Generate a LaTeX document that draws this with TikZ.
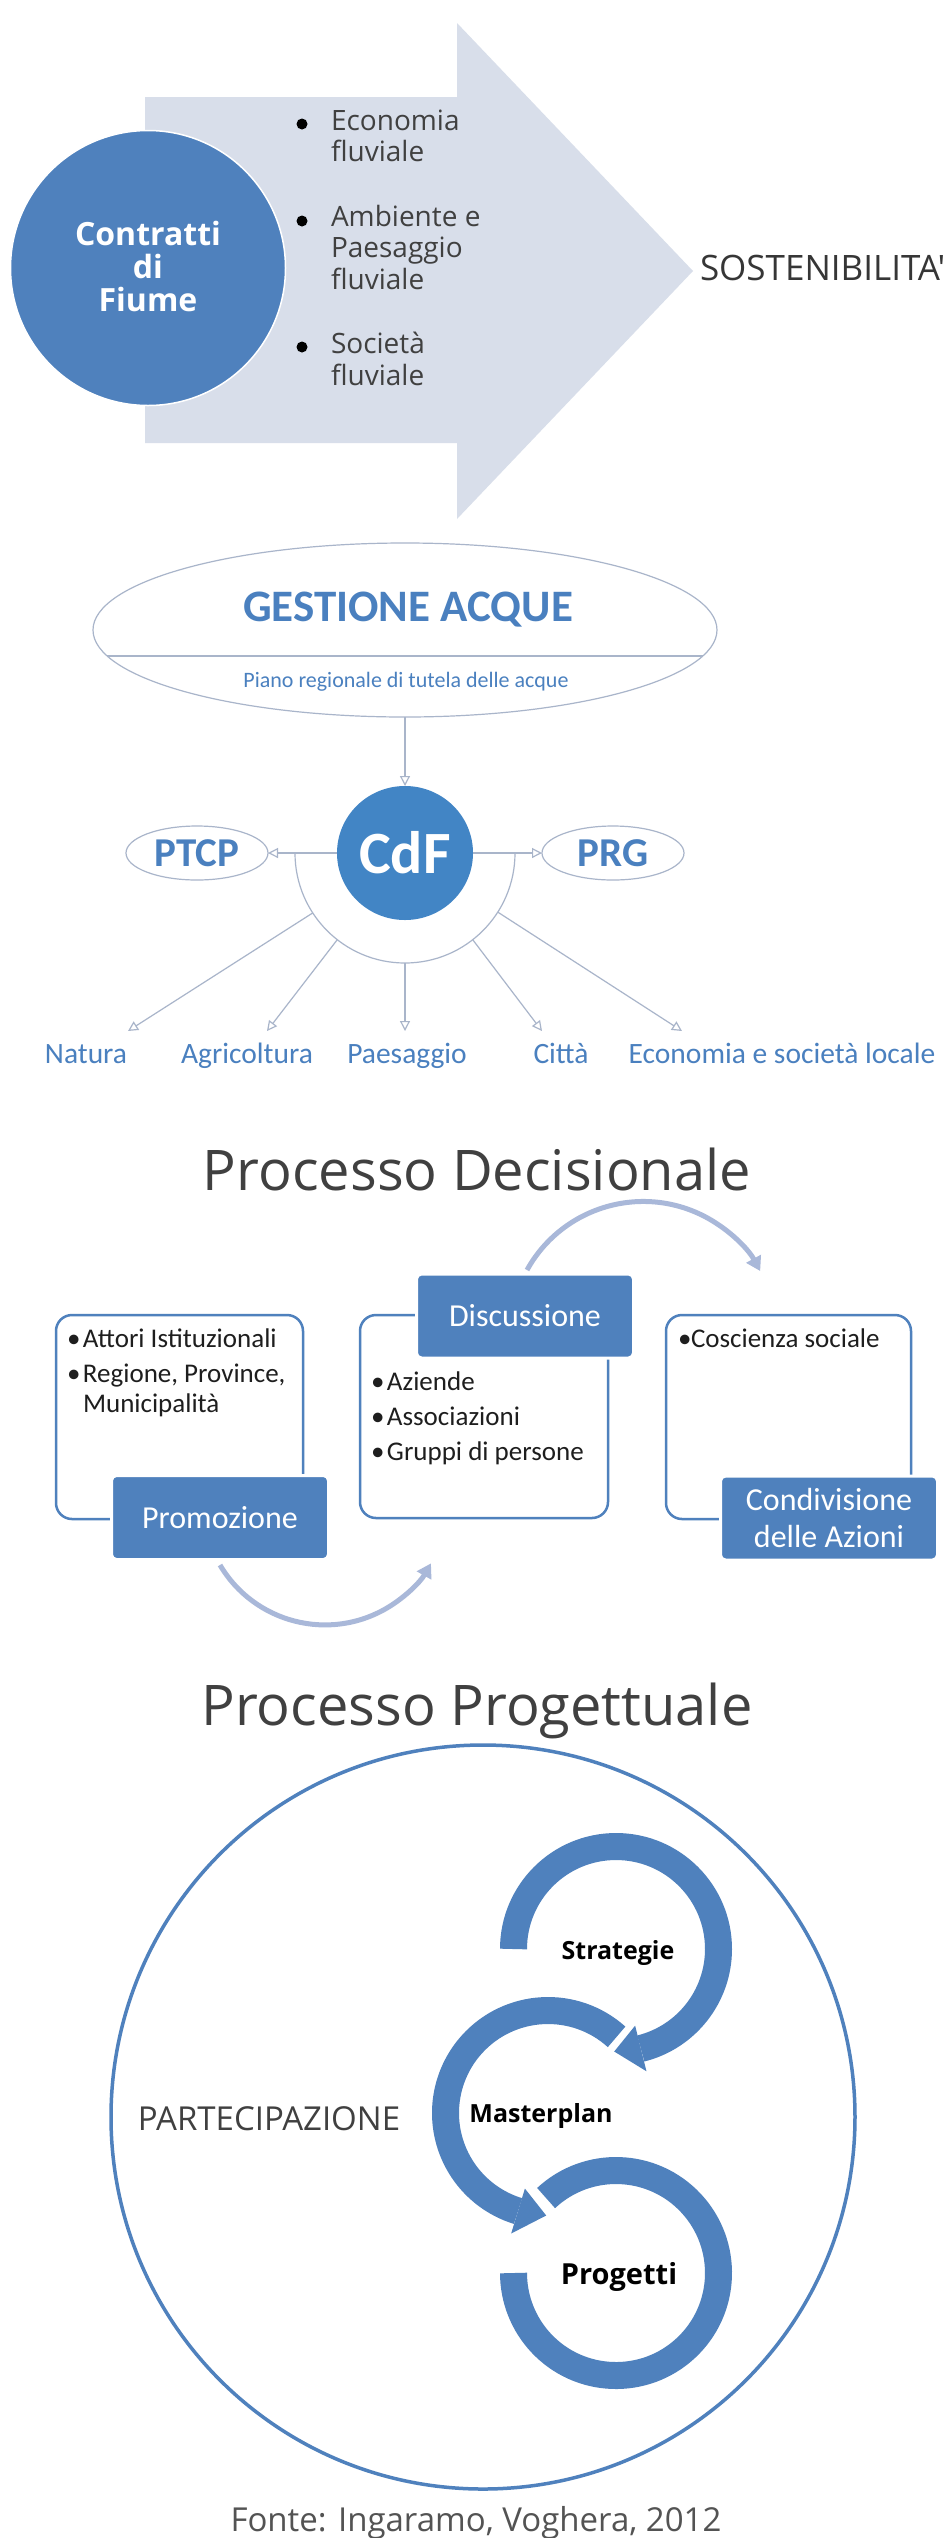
\documentclass[tikz,border=0pt]{standalone}
\usepackage{fontspec}
\setmainfont{Carlito}
\newfontfamily\os{Open Sans}
\usetikzlibrary{arrows.meta,shapes.geometric,calc}
\definecolor{ablue}{HTML}{4F81BD}
\definecolor{cblue}{HTML}{4285C5}
\definecolor{lfill}{HTML}{D8DEEA}
\definecolor{lline}{HTML}{A9B5CA}
\definecolor{arcc}{HTML}{A9B8D9}
\definecolor{tgray}{HTML}{404040}
\definecolor{tblue}{HTML}{4A80BF}
\definecolor{tdark}{HTML}{1E1E1E}
\tikzset{
  conn/.style={lline, line width=1.2pt, -{Triangle[open, length=10pt, width=10pt]}},
  bigbox/.style={draw=ablue, line width=2.5pt, rounded corners=16pt, fill=white, inner sep=0, outer sep=0},
  labbox/.style={fill=ablue, draw=white, line width=3pt, rounded corners=5pt, text=white,
    font=\fontsize{32}{37}\selectfont, align=center, inner sep=0, minimum width=217pt, minimum height=84pt},
  flow/.style={arcc, line width=5pt, -{Triangle[length=14pt, width=16pt]}},
  ring/.style={ablue, line width=27pt},
  dot/.style={circle, fill=black, inner sep=0, minimum size=11pt},
  plain/.style={inner sep=0, outer sep=0},
  boxtext/.style={plain, anchor=base west, text=tdark, font=\fontsize{27}{30}\selectfont},
  lbl/.style={plain, anchor=base, text=tblue, font=\fontsize{29.5}{30}\selectfont},
  title/.style={plain, anchor=base, text=tgray, font=\os\fontsize{56}{56}\selectfont},
  cyc/.style={plain, anchor=base, text=black, font=\os\bfseries\fontsize{25}{25}\selectfont},
}
\begin{document}
\begin{tikzpicture}[x=1pt,y=-1pt]
\fill[white] (0,0) rectangle (944,2538);
\useasboundingbox (0,0) rectangle (944,2538);

% ---------------- Section 1 ----------------
\fill[lfill] (145,97) -- (457,97) -- (457,23) -- (693,271) -- (457,519) -- (457,443) -- (145,443) -- cycle;
\node[circle, fill=ablue, draw=white, line width=1.5pt, minimum size=275pt, inner sep=0] (cdf1) at (148,268) {};
\node[plain, anchor=base, text=white, font=\os\bfseries\fontsize{32}{30}\selectfont] (cdf1t) at (148,245)
  {\begin{tabular}[t]{@{}c@{}}Contratti\\di\\Fiume\end{tabular}};
\node[dot] (d1) at (302,124) {};
\node[dot] (d2) at (302,221) {};
\node[dot] (d3) at (302,347) {};
\node[plain, anchor=base west, text=tgray, font=\os\fontsize{28}{31.5}\selectfont] (blist) at (331,130)
  {\begin{tabular}[t]{@{}l@{}}Economia\\fluviale\\[33pt]Ambiente e\\Paesaggio\\fluviale\\[33pt]Società\\fluviale\end{tabular}};
\node[plain, anchor=base west, text=tgray!85!black, font=\os\fontsize{35}{35}\selectfont] (sost) at (700,280) {SOSTENIBILITA'};

% ---------------- Section 2 ----------------
\node[ellipse, draw=lline, line width=1.2pt, minimum width=624pt, minimum height=174pt, inner sep=0, outer sep=0] (ga) at (405,630) {};
\draw[lline, line width=1.2pt] (ga.185.4) -- (ga.-5.4);
\node[plain, anchor=base, text=tblue, font=\bfseries\fontsize{45}{45}\selectfont] (gat) at (408,621) {GESTIONE ACQUE};
\node[plain, anchor=base, text=tblue, font=\fontsize{22}{22}\selectfont] (piano) at (406,687) {Piano regionale di tutela delle acque};

\node[ellipse, fill=cblue, minimum width=136pt, minimum height=134pt, inner sep=0, outer sep=0,
  text=white, font=\bfseries\fontsize{60}{60}\selectfont] (cdf) at (405,853) {CdF};
\node[ellipse, draw=lline, line width=1.2pt, minimum width=142pt, minimum height=54pt, inner sep=0, outer sep=0,
  text=tblue, font=\bfseries\fontsize{41}{41}\selectfont] (ptcp) at (197,853) {PTCP};
\node[ellipse, draw=lline, line width=1.2pt, minimum width=142pt, minimum height=54pt, inner sep=0, outer sep=0,
  text=tblue, font=\bfseries\fontsize{41}{41}\selectfont] (prg) at (613,853) {PRG};

\draw[conn] (ga.south) -- (cdf.north);
\draw[conn] (cdf.west) -- (ptcp.east);
\draw[conn] (cdf.east) -- (prg.west);
\draw[lline, line width=1.2pt] (cdf.center) ++(180:110) arc[start angle=180, end angle=0, radius=110];

\path (cdf.center) ++(147:110) coordinate (snat);
\path (cdf.center) ++(128:110) coordinate (sagr);
\path (cdf.center) ++(90:110) coordinate (spae);
\path (cdf.center) ++(52:110) coordinate (scit);
\path (cdf.center) ++(32.5:110) coordinate (seco);
\coordinate (tnat) at (128,1031);
\coordinate (tagr) at (267,1031);
\coordinate (tpae) at (405,1031);
\coordinate (tcit) at (542,1031);
\coordinate (teco) at (682,1031);
\draw[conn] (snat) -- (tnat);
\draw[conn] (sagr) -- (tagr);
\draw[conn] (spae) -- (tpae);
\draw[conn] (scit) -- (tcit);
\draw[conn] (seco) -- (teco);
\node[lbl] (lnat) at (86,1063) {Natura};
\node[lbl] (lagr) at (247,1063) {Agricoltura};
\node[lbl] (lpae) at (407,1063) {Paesaggio};
\node[lbl] (lcit) at (561,1063) {Città};
\node[lbl] (leco) at (782,1063) {Economia e società locale};

% ---------------- Section 3 ----------------
\node[title] (t1) at (477,1190) {Processo Decisionale};
\node[bigbox, minimum width=247pt, minimum height=204pt] (b1) at (179.5,1417) {};
\node[bigbox, minimum width=248pt, minimum height=203pt] (b2) at (484,1416.5) {};
\node[bigbox, minimum width=245pt, minimum height=204pt] (b3) at (788.5,1417) {};
\node[labbox] (l1) at (220,1517.5) {Promozione};
\node[labbox] (l2) at (525,1316) {Discussione};
\node[labbox] (l3) at (829,1518) {Condivisione\\delle Azioni};

\node[boxtext] (b1t) at (67,1347)
  {\begin{tabular}[t]{@{}l@{}l@{}}\makebox[16pt][l]{•}&Attori Istituzionali\\[5pt]•&Regione, Province,\\&Municipalità\end{tabular}};
\node[boxtext] (b2t) at (371,1390)
  {\begin{tabular}[t]{@{}l@{}l@{}}\makebox[16pt][l]{•}&Aziende\\[5pt]•&Associazioni\\[5pt]•&Gruppi di persone\end{tabular}};
\node[boxtext] (b3t) at (678,1347)
  {\begin{tabular}[t]{@{}l@{}l@{}}\makebox[13pt][l]{•}&Coscienza sociale\end{tabular}};

\coordinate (fa) at (527,1270);
\coordinate (fb) at (220,1565);
\draw[flow] (fa) arc[start angle=-151, end angle=-28.5, radius=133];
\draw[flow] (fb) arc[start angle=149.4, end angle=29.7, radius=122];

% ---------------- Section 4 ----------------
\node[title] (t2) at (477,1725) {Processo Progettuale};
\node[circle, draw=ablue, line width=3.5pt, minimum size=744pt, inner sep=0] (pc) at (483,2117) {};
\node[plain, anchor=base, text=tgray, font=\os\fontsize{33}{33}\selectfont] (part) at (269,2130) {PARTECIPAZIONE};

\coordinate (cs) at (616,1949);
\coordinate (cm) at (548,2113);
\coordinate (cp) at (616,2273);
% Strategie
\draw[ring] (cs) ++(180:102.5) arc[start angle=-180, end angle=76, radius=102.5];
\fill[ablue] ($(cs)+(76:79)$) -- ($(cs)+(76:126)$) -- ($(cs)+(91:102.5)$) -- cycle;
% Masterplan
\draw[ring] (cm) ++(-48:102.5) arc[start angle=-48, end angle=-253, radius=102.5];
\fill[ablue] ($(cm)+(-253:79)$) -- ($(cm)+(-253:126)$) -- ($(cm)+(-269:102.5)$) -- cycle;
% Progetti
\draw[ring] (cp) ++(-133:102.5) arc[start angle=-133, end angle=180, radius=102.5];

\node[cyc] (ts) at (618,1959) {Strategie};
\node[cyc] (tm) at (541,2122) {Masterplan};
\node[cyc, font=\os\bfseries\fontsize{29}{29}\selectfont] (tp) at (619,2284) {Progetti};

\node[plain, anchor=base, text=tgray!90, font=\os\fontsize{33}{33}\selectfont] (fonte) at (476,2531) {Fonte: Ingaramo, Voghera, 2012};
\end{tikzpicture}
\end{document}
